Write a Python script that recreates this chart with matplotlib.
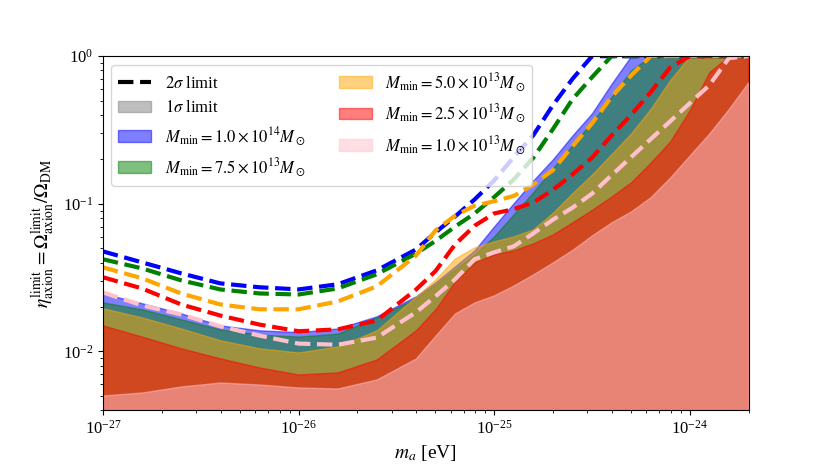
import numpy as np
import matplotlib
matplotlib.use('Agg')
import matplotlib.pyplot as plt
from matplotlib.lines import Line2D
from matplotlib.patches import Patch

plt.rcParams['font.family'] = 'serif'
plt.rcParams['font.serif'] = ['Liberation Serif', 'DejaVu Serif']
plt.rcParams['mathtext.fontset'] = 'stix'
plt.rcParams['font.size'] = 12

# log10 of axion mass [eV]
log_m = [-27.0, -26.8, -26.6, -26.4, -26.2, -26.0, -25.8, -25.6, -25.4, -25.3,
         -25.2, -25.1, -25.0, -24.9, -24.8, -24.7, -24.6, -24.5, -24.4, -24.3,
         -24.2, -24.1, -24.0, -23.9, -23.8, -23.7]

labels = [r'$M_{\rm min}=1.0\times10^{14}M_\odot$',
          r'$M_{\rm min}=7.5\times10^{13}M_\odot$',
          r'$M_{\rm min}=5.0\times10^{13}M_\odot$',
          r'$M_{\rm min}=2.5\times10^{13}M_\odot$',
          r'$M_{\rm min}=1.0\times10^{13}M_\odot$']
colors = ['blue', 'green', 'orange', 'red', 'pink']

# 2 sigma limits (dashed)
lim2_1e14 = [0.0476, 0.0401, 0.0338, 0.0289, 0.0272, 0.0263, 0.0285, 0.0354, 0.049, 0.064,
             0.082, 0.107, 0.144, 0.207, 0.291, 0.465, 0.70, 1.0, 1.0, 1.0,
             1.0, 1.0, 1.0, 1.0, 1.0, 1.0]
lim2_7p5e13 = [0.0421, 0.0365, 0.0303, 0.0263, 0.0247, 0.0243, 0.0267, 0.0333, 0.046, 0.056,
               0.070, 0.086, 0.111, 0.146, 0.205, 0.32, 0.51, 0.72, 1.0, 1.0,
               1.0, 1.0, 1.0, 1.0, 1.0, 1.0]
lim2_5e13 = [0.0371, 0.0313, 0.0247, 0.0208, 0.0193, 0.0193, 0.0218, 0.0276, 0.0445, 0.066,
             0.083, 0.097, 0.104, 0.113, 0.135, 0.169, 0.245, 0.35, 0.53, 0.74,
             1.0, 1.0, 1.0, 1.0, 1.0, 1.0]
lim2_2p5e13 = [0.0318, 0.0267, 0.0208, 0.0175, 0.0152, 0.0137, 0.0141, 0.0162, 0.0262, 0.035,
               0.053, 0.071, 0.086, 0.092, 0.102, 0.124, 0.158, 0.205, 0.29, 0.40,
               0.57, 0.84, 1.0, 1.0, 1.0, 1.0]
lim2_1e13 = [0.0251, 0.0205, 0.0178, 0.0148, 0.0128, 0.0113, 0.0111, 0.0124, 0.0184, 0.0236,
             0.0308, 0.0421, 0.0469, 0.0515, 0.063, 0.078, 0.094, 0.117, 0.156, 0.207,
             0.274, 0.362, 0.48, 0.636, 0.97, 1.0]

# 1 sigma limits (filled)
lim1_1e14 = [0.0247, 0.0212, 0.0181, 0.0150, 0.0139, 0.0135, 0.0143, 0.0173, 0.0236, 0.0294,
             0.0377, 0.0484, 0.0704, 0.101, 0.144, 0.20, 0.29, 0.41, 0.65, 1.0,
             1.0, 1.0, 1.0, 1.0, 1.0, 1.0]
lim1_7p5e13 = [0.0215, 0.0193, 0.0165, 0.0141, 0.0130, 0.0126, 0.0132, 0.0170, 0.0229, 0.0285,
               0.0360, 0.0455, 0.0602, 0.0849, 0.120, 0.174, 0.249, 0.357, 0.527, 0.80,
               1.0, 1.0, 1.0, 1.0, 1.0, 1.0]
lim1_5e13 = [0.0196, 0.0170, 0.0143, 0.0119, 0.0105, 0.00984, 0.0108, 0.0139, 0.0235, 0.0308,
             0.0427, 0.0507, 0.0557, 0.0602, 0.0672, 0.087, 0.118, 0.158, 0.217, 0.30,
             0.44, 0.69, 1.0, 1.0, 1.0, 1.0]
lim1_2p5e13 = [0.0150, 0.0126, 0.0105, 0.00897, 0.00779, 0.00698, 0.00721, 0.00883, 0.0139, 0.0193,
               0.0298, 0.0401, 0.0455, 0.0484, 0.054, 0.062, 0.0749, 0.091, 0.112, 0.14,
               0.19, 0.265, 0.43, 0.78, 1.0, 1.0]
lim1_1e13 = [0.00503, 0.00527, 0.00579, 0.00616, 0.00597, 0.00570, 0.00561, 0.00646, 0.00897, 0.0128,
             0.0181, 0.0215, 0.0240, 0.0280, 0.0333, 0.0401, 0.0488, 0.0611, 0.0749, 0.0889,
             0.111, 0.151, 0.213, 0.30, 0.44, 0.667]

lim2 = [lim2_1e14, lim2_7p5e13, lim2_5e13, lim2_2p5e13, lim2_1e13]
lim1 = [lim1_1e14, lim1_7p5e13, lim1_5e13, lim1_2p5e13, lim1_1e13]


def main():
    m_a = 10**np.array(log_m)

    fig = plt.figure(figsize=(8.3, 4.72), dpi=100)
    ax = fig.add_axes([0.124, 0.131, 0.778, 0.750])

    # 1 sigma regions, filled from the bottom
    fills = []
    for y1, c, lab in zip(lim1, colors, labels):
        f = ax.fill_between(m_a, 1e-3, y1, color=c, alpha=0.5, label=lab)
        fills.append(f)
    # 2 sigma limits on top
    for y2, c in zip(lim2, colors):
        ax.plot(m_a, y2, '--', color=c, lw=3)

    ax.set_xscale('log')
    ax.set_yscale('log')
    ax.set_xlim(1e-27, 2e-24)
    ax.set_ylim(4e-3, 1)
    ax.set_xlabel(r'$m_a$ [eV]', fontsize=14)
    ax.set_ylabel(r'$\eta_{\rm axion}^{\rm limit}=\Omega_{\rm axion}^{\rm limit}/\Omega_{\rm DM}$',
                  fontsize=14)

    handles = [Line2D([], [], color='k', ls='--', lw=3, label=r'$2\sigma$ limit'),
               Patch(facecolor='gray', edgecolor='gray', alpha=0.5, label=r'$1\sigma$ limit')]
    handles += fills
    ax.legend(handles=handles, loc='upper left', ncol=2)

    fig.savefig('out.png', dpi=100)


if __name__ == '__main__':
    main()
